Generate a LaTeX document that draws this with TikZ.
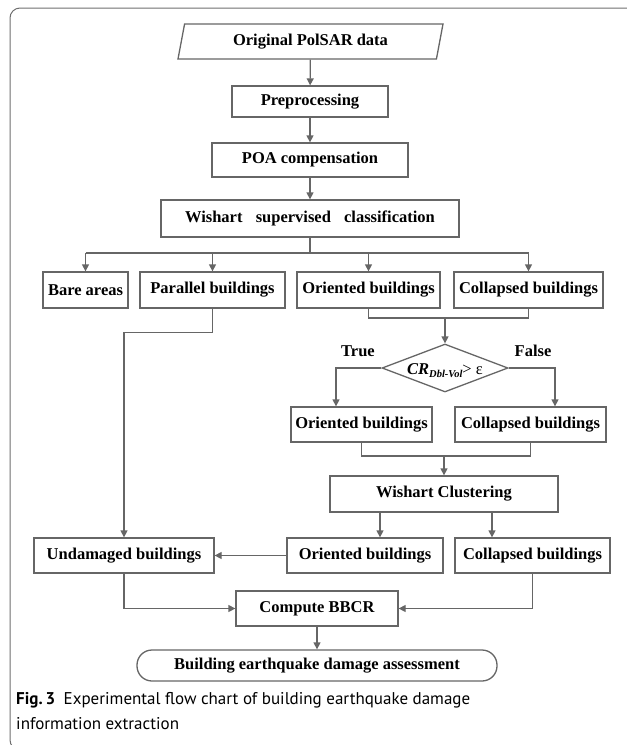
\documentclass[tikz,border=0pt]{standalone}
\usepackage{fontspec}
\setmainfont{Liberation Serif}
\newfontfamily\capfont{PT Sans}
\usepackage{tikz}
\usetikzlibrary{arrows.meta,positioning,shapes.geometric}
\definecolor{Line}{HTML}{666666}
\definecolor{Frame}{HTML}{6E6E6E}
\newcommand{\boxfont}{\fontsize{16.5}{19}\selectfont\bfseries}

\begin{document}
\begin{tikzpicture}[x=1pt,y=-1pt,
    block/.style={rectangle,draw=Line,line width=1.3pt,minimum height=35pt,inner sep=2pt,align=center,font=\boxfont},
    datablock/.style={trapezium,trapezium left angle=71,trapezium right angle=109,trapezium stretches body,draw=Line,line width=1.3pt,minimum width=265pt,minimum height=35pt,inner sep=2pt,font=\boxfont},
    decision/.style={diamond,aspect=2.625,draw=Line,line width=1.3pt,minimum width=126pt,minimum height=48pt,inner sep=0pt,text height=12pt,text depth=0pt,font=\boxfont},
    terminal/.style={rectangle,rounded corners=15pt,draw=Line,line width=1.3pt,minimum width=360pt,minimum height=31pt,inner sep=2pt,font=\boxfont},
    answer/.style={inner sep=0pt,font=\boxfont},
    link/.style={draw=Line,line width=1.3pt},
    arrow/.style={link,-{Triangle[length=7pt,width=7pt]}}
]
\useasboundingbox (0,0) rectangle (627,745);
\draw[Frame,line width=1pt,rounded corners=10pt] (10,8) rectangle (640,750);

% main column
\node[datablock] (data) at (310.5,41.5) {Original PolSAR data};
\node[block,minimum width=156pt,minimum height=31pt] (pre) at (310,101.5) {Preprocessing};
\node[block,minimum width=196pt,minimum height=34pt] (poa) at (310,160) {POA compensation};
\node[block,minimum width=298pt,minimum height=37pt] (wsc) at (310,218.5) {Wishart\hspace{0.8em}supervised\hspace{0.8em}classification};
\draw[arrow] (data) -- (pre);
\draw[arrow] (pre) -- (poa);
\draw[arrow] (poa) -- (wsc);

% classes
\node[block,minimum width=85pt,minimum height=36pt] (bare) at (85.5,290) {Bare areas};
\node[block,minimum width=145pt,minimum height=36pt] (par1) at (212.5,290) {Parallel buildings};
\node[block,minimum width=143pt,minimum height=36pt] (ori1) at (368.5,290) {Oriented buildings};
\node[block,minimum width=149pt,minimum height=36pt] (col1) at (528.5,290) {Collapsed buildings};
\coordinate (split) at (310,253);
\draw[link] (wsc) -- (split);
\draw[link] (bare.north |- split) -- (col1.north |- split);
\draw[arrow] (bare.north |- split) -- (bare);
\draw[arrow] (par1.north |- split) -- (par1);
\draw[arrow] (ori1.north |- split) -- (ori1);
\draw[arrow] (col1.north |- split) -- (col1);

% decision
\node[decision] (dec) at (445,368) {{\itshape CR}\raisebox{-3.5pt}{\fontsize{10.5}{12}\selectfont\bfseries\itshape Dbl-Vol}{\mdseries> ε}};
\node[answer] (yes) at (358,351) {True};
\node[answer] (no) at (533,351) {False};
\coordinate (join1) at (445,318);
\draw[link] (ori1.south) |- (join1) -| (col1.south);
\draw[arrow] (join1) -- (dec);

\node[block,minimum width=141pt] (ori2) at (361.5,424.5) {Oriented buildings};
\node[block,minimum width=151pt] (col2) at (530.5,424.5) {Collapsed buildings};
\draw[arrow] (dec.west) -| ([xshift=-25.5pt]ori2.north);
\draw[arrow] (dec.east) -| ([xshift=24.5pt]col2.north);

% clustering
\node[block,minimum width=228pt,minimum height=36pt] (wc) at (444,494) {Wishart Clustering};
\coordinate (join2) at (444,456);
\draw[link] (ori2.south) |- (join2) -| (col2.south);
\draw[arrow] (join2) -- (wc);

\node[block,minimum width=180pt] (und) at (124,555.5) {Undamaged buildings};
\node[block,minimum width=156pt] (ori3) at (365,555.5) {Oriented buildings};
\node[block,minimum width=155pt] (col3) at (532.5,555.5) {Collapsed buildings};
\draw[arrow] ([xshift=-64pt]wc.south) -- ([xshift=-64pt]wc.south |- ori3.north);
\draw[arrow] ([xshift=48pt]wc.south) -- ([xshift=48pt]wc.south |- col3.north);
\draw[arrow] (par1.south) -- ++(0,24) -| (und.north);
\draw[arrow] (ori3) -- (und);

% result
\node[block,minimum width=162pt] (bbcr) at (317,608.5) {Compute BBCR};
\node[terminal] (assess) at (317,665.5) {Building earthquake damage assessment};
\draw[arrow] (und.south) |- (bbcr.west);
\draw[arrow] (col3.south) |- (bbcr.east);
\draw[arrow] (bbcr) -- (assess);

\node[anchor=north west,inner sep=0pt,align=left,font=\capfont\fontsize{17}{25}\selectfont] (cap) at (16,692)
  {\textbf{Fig.\,3}\enspace Experimental flow chart of building earthquake damage\\information extraction};
\end{tikzpicture}
\end{document}
